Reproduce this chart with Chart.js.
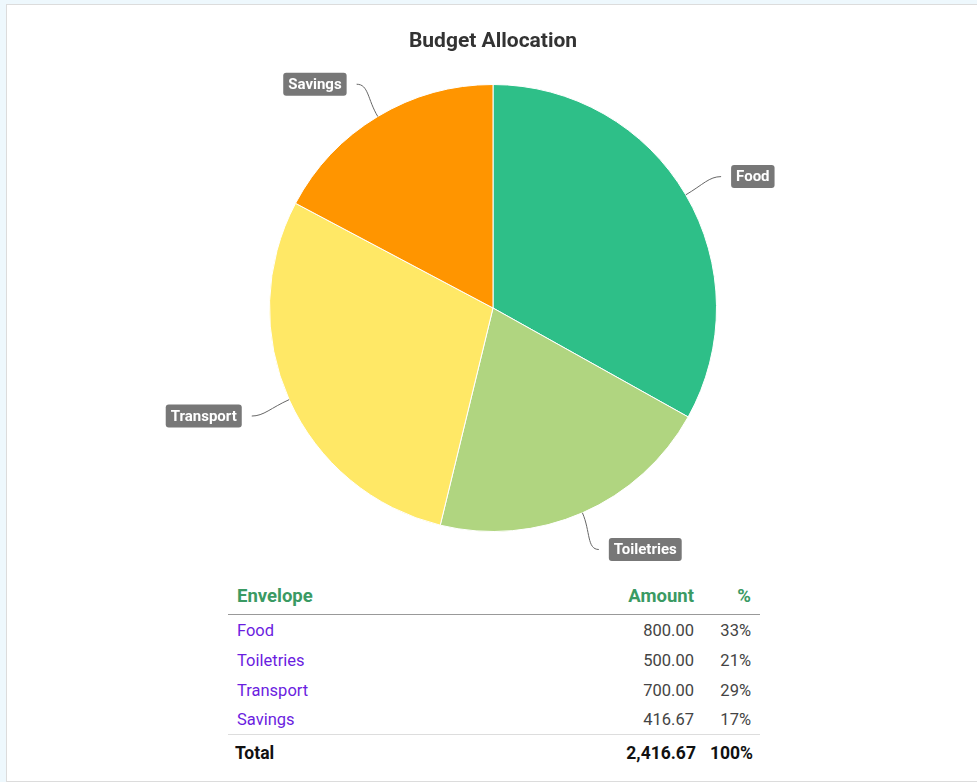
<!DOCTYPE html>
<html><head><meta charset="utf-8">
<script src="https://cdn.jsdelivr.net/npm/chart.js@4"></script>
<style>
html,body{margin:0;padding:0;background:#eef8fd;overflow:hidden;width:977px;height:782px;font-family:Roboto,Arial,sans-serif;}
#panel{position:absolute;left:6px;top:4px;width:1000px;height:776px;background:#fff;border:1px solid #dcdcdc;}
#c{position:absolute;left:0;top:0;}
table{position:absolute;left:228px;top:579px;width:532px;border-collapse:collapse;font-family:Roboto,Arial,sans-serif;}
th{color:#3a9a63;font-weight:bold;font-size:18.5px;height:35px;padding:0 9px;border-bottom:1px solid #999;box-sizing:border-box;}
td{font-size:16.5px;color:#444;height:30px;padding:2px 9px 0 9px;box-sizing:border-box;}
td.n{color:#6b1de0;}
tr.tot td{border-top:1px solid #ddd;font-weight:bold;color:#111;font-size:17.5px;height:34px;padding:3px 7px 0 7px;}
.l{text-align:left}.r{text-align:right}
</style></head>
<body>
<div id="panel"></div>
<canvas id="c" width="986" height="570"></canvas>
<table id="t"></table>
<script>
const categories = ["Food","Toiletries","Transport","Savings"];
const amounts = [800.00, 500.00, 700.00, 416.67];
const colors = ["#2ebf88","#b0d580","#ffe866","#ff9500"];
const chartTitle = "Budget Allocation";

const total = amounts.reduce((a,b)=>a+b,0);
const fmt = v => v.toLocaleString('en-US',{minimumFractionDigits:2,maximumFractionDigits:2});
let html = '<tr><th class="l">Envelope</th><th class="r">Amount</th><th class="r" style="width:36px">%</th></tr>';
categories.forEach((c,i)=>{
  html += `<tr><td class="l n">${c}</td><td class="r">${fmt(amounts[i])}</td><td class="r">${Math.round(amounts[i]/total*100)}%</td></tr>`;
});
html += `<tr class="tot"><td class="l">Total</td><td class="r">${fmt(total)}</td><td class="r">100%</td></tr>`;
document.getElementById('t').innerHTML = html;

const labelPlugin = {
  id:'calloutLabels',
  afterDatasetsDraw(chart){
    const ctx = chart.ctx;
    const meta = chart.getDatasetMeta(0);
    ctx.save();
    ctx.font = 'bold 15px Roboto, Arial, sans-serif';
    meta.data.forEach((arc,i)=>{
      const p = arc.getProps(['x','y','startAngle','endAngle','outerRadius'],true);
      const mid = (p.startAngle+p.endAngle)/2;
      const cx = p.x, cy = p.y, r = p.outerRadius;
      const sx = cx + Math.cos(mid)*r, sy = cy + Math.sin(mid)*r;
      const ex = cx + Math.cos(mid)*(r+41), ey = cy + Math.sin(mid)*(r+40) + (Math.sin(mid)<0?2:0);
      const right = Math.cos(mid) >= 0;
      const c1x = cx + Math.cos(mid)*(r+20), c1y = cy + Math.sin(mid)*(r+20);
      const c2x = ex + (right?-12:12), c2y = ey;
      ctx.strokeStyle = '#666';
      ctx.lineWidth = 1;
      ctx.beginPath();
      ctx.moveTo(sx,sy);
      ctx.bezierCurveTo(c1x,c1y,c2x,c2y,ex,ey);
      ctx.stroke();
      const txt = chart.data.labels[i];
      const tw = ctx.measureText(txt).width;
      const bw = tw + 10, bh = 23;
      const gap = 10;
      const bx = right ? ex + gap : ex - gap - bw;
      const by = ey - bh/2;
      ctx.fillStyle = '#777777';
      ctx.beginPath();
      ctx.roundRect(bx,by,bw,bh,3);
      ctx.fill();
      ctx.fillStyle = '#ffffff';
      ctx.textAlign = 'center';
      ctx.textBaseline = 'middle';
      ctx.fillText(txt, bx+bw/2, ey+1);
    });
    ctx.restore();
  }
};

new Chart(document.getElementById('c'),{
  type:'pie',
  data:{labels:categories,datasets:[{data:amounts,backgroundColor:colors,borderColor:'#ffffff',borderWidth:1,hoverOffset:0}]},
  options:{
    responsive:false,animation:false,
    layout:{autoPadding:false,padding:{top:0,bottom:38,left:0,right:0}},
    plugins:{
      legend:{display:false},tooltip:{enabled:false},
      title:{display:true,text:chartTitle,color:'#333',font:{family:'Roboto, Arial, sans-serif',size:21,weight:'bold',lineHeight:1.2},padding:{top:29.4,bottom:29.4}}
    }
  },
  plugins:[labelPlugin]
});
</script>
</body></html>
